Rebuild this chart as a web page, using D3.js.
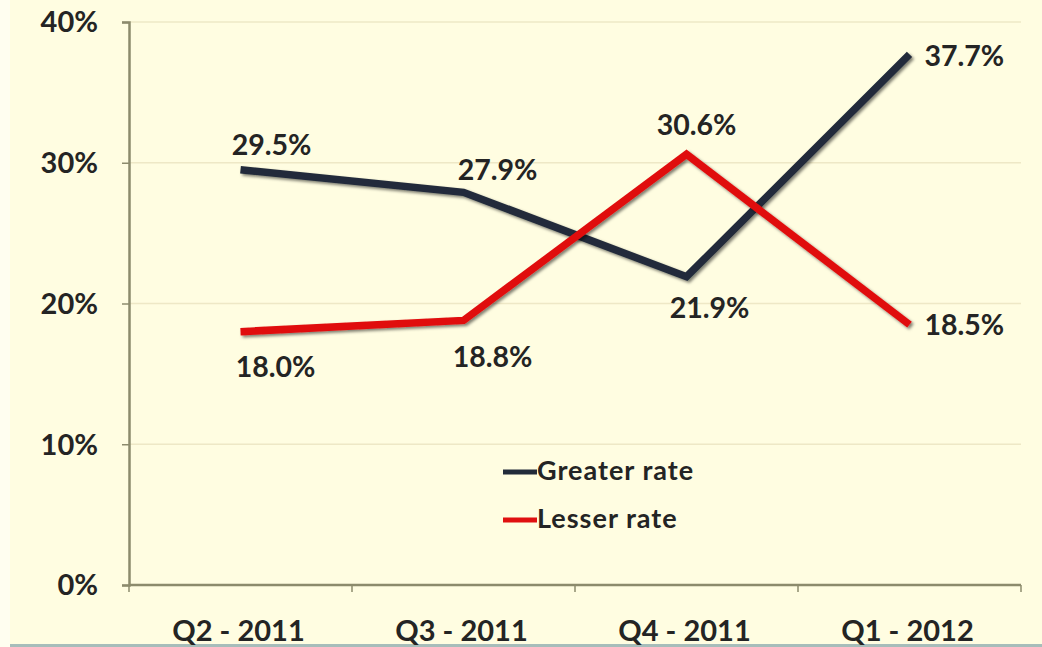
<!DOCTYPE html>
<html>
<head>
<meta charset="utf-8">
<script src="https://cdn.jsdelivr.net/npm/d3@7"></script>
<style>
  html, body { margin: 0; padding: 0; background: #FFFDE1; }
  svg { display: block; }
  text { font-family: Lato, "Open Sans", sans-serif; font-weight: 700; fill: #242424; }
</style>
</head>
<body>
<svg id="chart" width="1042" height="647"></svg>
<script>
// Quarterly rates, in percent
const quarters = ["Q2 - 2011", "Q3 - 2011", "Q4 - 2011", "Q1 - 2012"];
const greaterRate = [29.5, 27.9, 21.9, 37.7];
const lesserRate = [18.0, 18.8, 30.6, 18.5];
const yTicks = [0, 10, 20, 30, 40];

// Label placement per point: [dx, dy, anchor]
const greaterLabelPos = [[31, -15, "middle"], [34, -12, "middle"], [23, 41, "middle"], [15, 12, "start"]];
const lesserLabelPos = [[35, 45, "middle"], [29, 47, "middle"], [10, -19, "middle"], [15, 10, "start"]];

const series = [
  { name: "Greater rate", values: greaterRate, color: "#222B3A", labels: greaterLabelPos },
  { name: "Lesser rate", values: lesserRate, color: "#E01010", labels: lesserLabelPos }
];

const W = 1042, H = 647;
const plot = { left: 129, right: 1021, top: 22, bottom: 585 };

const svg = d3.select("#chart");

// Page background, with a lighter left margin and a thin rule at the foot
svg.append("rect").attr("width", W).attr("height", H).attr("fill", "#FFFDE1");
svg.append("rect").attr("width", 10).attr("height", H).attr("fill", "#FFFEF0");
svg.append("rect").attr("x", 10).attr("y", 644).attr("width", W - 10).attr("height", 3).attr("fill", "#A7BDBA");

const defs = svg.append("defs");
const f = defs.append("filter").attr("id", "shadow").attr("x", "-5%").attr("y", "-5%").attr("width", "110%").attr("height", "110%");
f.append("feDropShadow").attr("dx", 2).attr("dy", 2).attr("stdDeviation", 1.5)
  .attr("flood-color", "#000").attr("flood-opacity", 0.5);

const x = d3.scaleBand().domain(quarters).range([plot.left, plot.right]).padding(0);
const y = d3.scaleLinear().domain([0, 40]).range([plot.bottom, plot.top]);
const cx = q => x(q) + x.bandwidth() / 2;

// Horizontal gridlines
svg.append("g").selectAll("line").data(yTicks.filter(t => t > 0)).join("line")
  .attr("x1", plot.left).attr("x2", plot.right)
  .attr("y1", d => y(d)).attr("y2", d => y(d))
  .attr("stroke", "#EEE8C6").attr("stroke-width", 1.5);

// Y axis
const yAxis = svg.append("g").attr("transform", `translate(${plot.left},0)`)
  .call(d3.axisLeft(y).tickValues(yTicks).tickFormat(d => d + "%").tickSize(7).tickPadding(24));
yAxis.select(".domain").attr("stroke", "#8C8B6C").attr("stroke-width", 2.5);
yAxis.selectAll(".tick line").attr("stroke", "#8C8B6C").attr("stroke-width", 1.5);
yAxis.selectAll(".tick text").attr("font-size", 29).attr("fill", "#242424")
  .attr("font-family", "Lato, sans-serif").attr("font-weight", 700).attr("dy", "0.34em");

// X axis: ticks between categories, labels centred in each band
const xEdges = quarters.map(q => x(q)).concat([x(quarters[quarters.length - 1]) + x.bandwidth()]);
const xAxis = svg.append("g");
xAxis.append("line").attr("x1", plot.left).attr("x2", plot.right).attr("y1", plot.bottom).attr("y2", plot.bottom)
  .attr("stroke", "#8C8B6C").attr("stroke-width", 2.5);
xAxis.selectAll("line.tk").data(xEdges).join("line").attr("class", "tk")
  .attr("x1", d => d).attr("x2", d => d).attr("y1", plot.bottom).attr("y2", plot.bottom + 7)
  .attr("stroke", "#8C8B6C").attr("stroke-width", 1.5);
xAxis.selectAll("text").data(quarters).join("text")
  .attr("x", d => cx(d) - 2).attr("y", 641).attr("text-anchor", "middle")
  .attr("font-size", 29).text(d => d);

// Series lines
const line = d3.line().x((d, i) => cx(quarters[i])).y(d => y(d));
series.forEach(s => {
  svg.append("path").datum(s.values)
    .attr("d", line)
    .attr("fill", "none").attr("stroke", s.color).attr("stroke-width", 7.5)
    .attr("stroke-linejoin", "miter").attr("filter", "url(#shadow)");
});

// Value labels
series.forEach(s => {
  svg.append("g").selectAll("text").data(s.values).join("text")
    .attr("x", (d, i) => cx(quarters[i]) + s.labels[i][0])
    .attr("y", (d, i) => y(d) + s.labels[i][1])
    .attr("text-anchor", (d, i) => s.labels[i][2])
    .attr("font-size", 28.5)
    .text(d => d.toFixed(1) + "%");
});

// Legend
const legend = svg.append("g").attr("transform", "translate(503,472)");
series.forEach((s, i) => {
  const g = legend.append("g").attr("transform", `translate(0,${i * 48})`);
  g.append("line").attr("x1", 0).attr("x2", 34).attr("y1", 0).attr("y2", 0)
    .attr("stroke", s.color).attr("stroke-width", 5);
  g.append("text").attr("x", 34).attr("y", 8).attr("font-size", 27)
    .attr("letter-spacing", 1).text(s.name);
});
</script>
</body>
</html>
